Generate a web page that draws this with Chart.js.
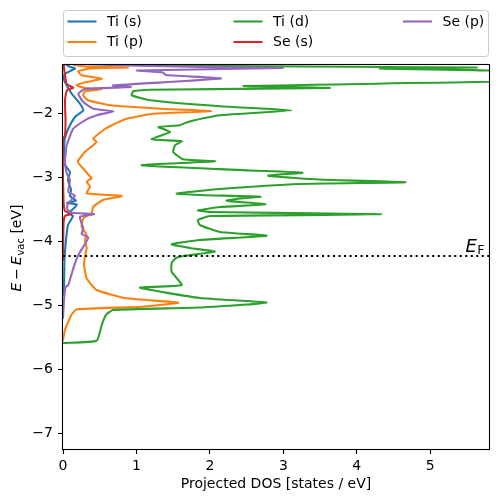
<!DOCTYPE html>
<html>
<head>
<meta charset="utf-8">
<script src="https://cdn.jsdelivr.net/npm/chart.js"></script>
<style>
  html, body { margin: 0; padding: 0; background: #fff; }
  #wrap { width: 498px; height: 502px; }
</style>
</head>
<body>
<div id="wrap"><canvas id="dosChart" width="498" height="502"></canvas></div>
<script>
// projected DOS, energies in eV (relative to vacuum)
const seriesNames = ['Ti (s)', 'Ti (p)', 'Ti (d)', 'Se (s)', 'Se (p)'];
const seriesColors = ['#1f77b4', '#ff7f0e', '#2ca02c', '#d62728', '#9467bd'];

const tiS_E = [-4.844, -4.688, -4.297, -3.984, -3.75, -3.609, -3.563, -3.516, -3.43, -3.406, -3.367, -3.297, -3.203, -3.047, -2.922, -2.813, -2.734, -2.578, -2.391, -2.245, -2.063, -1.958, -1.855, -1.698, -1.567, -1.464, -1.386, -1.305, -1.266, -1.234];
const tiS_dos = [0, 0.014, 0.02, 0.041, 0.068, 0.136, 0.068, 0.122, 0.19, 0.054, 0.177, 0.095, 0.109, 0.068, 0.095, 0.027, 0.02, 0.014, 0.027, 0.072, 0.163, 0.276, 0.231, 0.118, 0.05, 0.007, 0.027, 0.163, 0.068, 0.041];

const tiP_E = [-5.547, -5.39, -5.261, -5.14, -5.067, -5.027, -4.964, -4.895, -4.766, -4.583, -4.375, -4.245, -4.114, -3.984, -3.906, -3.777, -3.645, -3.567, -3.464, -3.359, -3.297, -3.255, -3.152, -3.073, -3.016, -2.98, -2.85, -2.76, -2.609, -2.453, -2.402, -2.27, -2.192, -2.089, -2.011, -1.972, -1.933, -1.88, -1.802, -1.723, -1.661, -1.63, -1.609, -1.567, -1.516, -1.464, -1.411, -1.348, -1.305, -1.289, -1.273, -1.25, -1.22];
const tiP_dos = [0, 0.027, 0.072, 0.122, 0.186, 1.071, 1.569, 0.867, 0.458, 0.322, 0.286, 0.299, 0.322, 0.299, 0.322, 0.254, 0.276, 0.39, 0.412, 0.544, 0.799, 0.322, 0.367, 0.322, 0.39, 0.36, 0.26, 0.2, 0.299, 0.458, 0.412, 0.548, 0.663, 0.867, 1.229, 2.014, 1.32, 0.639, 0.344, 0.276, 0.299, 0.527, 0.299, 0.186, 0.322, 0.527, 0.254, 0.208, 0.367, 0.884, 0.299, 0.163, 0.095];

const tiD_E = [-5.594, -5.558, -5.313, -5.156, -5.078, -5.04, -4.964, -4.89, -4.73, -4.688, -4.48, -4.344, -4.266, -4.23, -4.167, -4.109, -4.052, -3.984, -3.917, -3.859, -3.75, -3.672, -3.61, -3.583, -3.547, -3.523, -3.469, -3.427, -3.37, -3.336, -3.308, -3.281, -3.258, -3.188, -3.109, -3.083, -3.039, -2.98, -2.933, -2.898, -2.817, -2.755, -2.723, -2.609, -2.505, -2.442, -2.411, -2.297, -2.22, -2.19, -2.14, -2.036, -1.958, -1.895, -1.802, -1.723, -1.661, -1.636, -1.609, -1.578, -1.47, -1.336, -1.305, -1.289, -1.273, -1.258, -1.234];
const tiD_dos = [0, 0.458, 0.527, 0.585, 0.68, 1.84, 2.771, 1.864, 1.048, 1.615, 1.479, 1.479, 1.537, 1.66, 2.068, 1.728, 1.479, 1.864, 2.771, 2.136, 1.864, 1.837, 2.0, 4.336, 2.0, 1.837, 2.136, 2.758, 2.227, 2.408, 2.69, 1.864, 1.547, 2.136, 3.224, 4.663, 3.497, 2.793, 3.261, 2.544, 1.071, 2.068, 1.637, 1.501, 1.524, 1.615, 1.207, 1.456, 1.3, 1.59, 1.701, 2.136, 3.112, 2.136, 1.184, 0.935, 0.956, 1.184, 3.633, 2.463, 7.5, 5.8, 4.313, 5.633, 3.224, 1.184, 0.776];

const seS_E = [-4.297, -3.75, -3.609, -3.57, -3.531, -3.36, -2.42, -2.344, -2.109, -1.797, -1.641, -1.609, -1.547, -1.406, -1.281, -1.22];
const seS_dos = [0, 0.007, 0.027, 0.122, 0.027, 0.007, 0, 0.027, 0.034, 0.027, 0.054, 0.14, 0.05, 0.027, 0.014, 0.02];

const seP_E = [-5.203, -4.922, -4.719, -4.688, -4.427, -4.219, -4.089, -3.945, -3.891, -3.802, -3.672, -3.62, -3.578, -3.555, -3.484, -3.411, -3.289, -3.234, -3.047, -2.942, -2.755, -2.505, -2.245, -2.114, -2.036, -1.973, -1.933, -1.828, -1.698, -1.625, -1.594, -1.57, -1.461, -1.406, -1.367, -1.336, -1.297, -1.281, -1.258, -1.234];
const seP_dos = [0, 0.014, 0.034, 0.072, 0.14, 0.208, 0.276, 0.344, 0.254, 0.276, 0.238, 0.231, 0.422, 0.095, 0.054, 0.072, 0.163, 0.072, 0.095, 0.05, 0.027, 0.05, 0.14, 0.299, 0.458, 0.684, 0.412, 0.276, 0.208, 0.299, 0.925, 0.68, 2.15, 1.401, 1.361, 1.007, 2.993, 1.864, 0.871, 0.231];

const fermiLevel = -4.234;
const xTicks = [0, 1, 2, 3, 4, 5];
const yTicks = [-7, -6, -5, -4, -3, -2];
const xMin = 0, xMax = 5.8;
const yMin = -7.25, yMax = -1.25;

const FONT = "'DejaVu Sans', sans-serif";
const LW = 2.08; // 1.5 pt at 100 dpi
Chart.defaults.font.family = FONT;
Chart.defaults.font.size = 14;
Chart.defaults.color = '#000';

const energies = [tiS_E, tiP_E, tiD_E, seS_E, seP_E];
const dosValues = [tiS_dos, tiP_dos, tiD_dos, seS_dos, seP_dos];

const datasets = seriesNames.map((name, k) => ({
  label: name,
  data: dosValues[k].map((d, i) => ({ x: d, y: energies[k][i] })),
  borderColor: seriesColors[k],
  backgroundColor: seriesColors[k],
  borderWidth: LW,
  borderJoinStyle: 'round',
  borderCapStyle: 'round',
  showLine: true,
  pointRadius: 0,
  tension: 0.15,
  order: seriesNames.length - k
}));

datasets.push({
  label: 'E_F',
  data: [{ x: xMin, y: fermiLevel }, { x: xMax, y: fermiLevel }],
  borderColor: '#000',
  borderWidth: LW,
  borderDash: [2.08, 3.43],
  showLine: true,
  pointRadius: 0,
  tension: 0,
  order: 0
});

function tickText(v) {
  return String(v).replace('-', '\u2212');
}

// draws a row of text pieces (for the little bits of math)
function drawPieces(ctx, pieces, x, y, align) {
  let total = 0;
  pieces.forEach(p => { ctx.font = p.font; p.w = ctx.measureText(p.t).width; total += p.w + (p.gap || 0); });
  let cx = align === 'center' ? x - total / 2 : x;
  pieces.forEach(p => {
    ctx.font = p.font;
    ctx.fillText(p.t, cx, y + (p.dy || 0));
    cx += p.w + (p.gap || 0);
  });
}

const extrasPlugin = {
  id: 'extras',
  afterDraw(chart) {
    const ctx = chart.ctx;
    const a = chart.chartArea;
    ctx.save();

    // axes box
    ctx.strokeStyle = '#000';
    ctx.lineWidth = 1.1;
    ctx.strokeRect(a.left - 0.5, a.top - 0.5, a.right - a.left + 1, a.bottom - a.top + 1);

    ctx.fillStyle = '#000';

    // x axis title
    ctx.font = '14px ' + FONT;
    ctx.textAlign = 'center';
    ctx.textBaseline = 'middle';
    ctx.fillText('Projected DOS [states / eV]', (a.left + a.right) / 2, 484);

    // y axis title: E − E_vac [eV]
    ctx.save();
    ctx.translate(21, 248);
    ctx.rotate(-Math.PI / 2);
    ctx.textAlign = 'left';
    ctx.textBaseline = 'alphabetic';
    drawPieces(ctx, [
      { t: 'E', font: 'italic 14px ' + FONT, gap: 3 },
      { t: '\u2212', font: '14px ' + FONT, gap: 3 },
      { t: 'E', font: 'italic 14px ' + FONT, gap: 0.5 },
      { t: 'vac', font: '10px ' + FONT, dy: 2.5 },
      { t: ' [eV]', font: '14px ' + FONT }
    ], 0, 0, 'center');
    ctx.restore();

    // E_F label
    const yF = chart.scales.y.getPixelForValue(fermiLevel);
    ctx.textAlign = 'left';
    ctx.textBaseline = 'alphabetic';
    drawPieces(ctx, [
      { t: 'E', font: 'italic 18px ' + FONT, gap: 0.5 },
      { t: 'F', font: '12.5px ' + FONT, dy: 2 }
    ], a.right - 23.5, yF - 4.3, 'left');

    // legend, matplotlib style (3 columns, filled column by column)
    ctx.beginPath();
    ctx.roundRect(63.5, 10.5, 425, 46, 3);
    ctx.fillStyle = 'rgba(255,255,255,0.8)';
    ctx.fill();
    ctx.strokeStyle = '#cccccc';
    ctx.lineWidth = 1;
    ctx.stroke();

    const colX = [67.5, 233.5, 403];
    const rowY = [21.5, 42];
    ctx.font = '14px ' + FONT;
    ctx.textBaseline = 'middle';
    seriesNames.forEach((name, i) => {
      const hx = colX[Math.floor(i / 2)];
      const hy = rowY[i % 2];
      ctx.strokeStyle = seriesColors[i];
      ctx.lineWidth = LW;
      ctx.beginPath();
      ctx.moveTo(hx, hy);
      ctx.lineTo(hx + 29, hy);
      ctx.stroke();
      ctx.fillStyle = '#000';
      ctx.fillText(name, hx + 39.5, hy + 0.5);
    });

    ctx.restore();
  }
};

new Chart(document.getElementById('dosChart').getContext('2d'), {
  type: 'scatter',
  data: { datasets: datasets },
  options: {
    responsive: false,
    animation: false,
    events: [],
    layout: { padding: { top: 65, right: 9, left: 0, bottom: 0 } },
    elements: { line: { capBezierPoints: false } },
    plugins: { legend: { display: false }, tooltip: { enabled: false } },
    scales: {
      x: {
        type: 'linear',
        min: xMin,
        max: xMax,
        afterBuildTicks: s => { s.ticks = xTicks.map(v => ({ value: v })); },
        afterFit: s => { s.height = 53; },
        grid: { display: true, drawOnChartArea: false, drawTicks: true, tickLength: 5, tickColor: '#000', tickWidth: 1.1 },
        border: { display: false },
        ticks: { padding: 4, color: '#000', maxRotation: 0, callback: tickText }
      },
      y: {
        type: 'linear',
        min: yMin,
        max: yMax,
        afterBuildTicks: s => { s.ticks = yTicks.map(v => ({ value: v })); },
        afterFit: s => { s.width = 63; },
        grid: { display: true, drawOnChartArea: false, drawTicks: true, tickLength: 5, tickColor: '#000', tickWidth: 1.1 },
        border: { display: false },
        ticks: { padding: 5, color: '#000', callback: tickText }
      }
    }
  },
  plugins: [extrasPlugin]
});
</script>
</body>
</html>
